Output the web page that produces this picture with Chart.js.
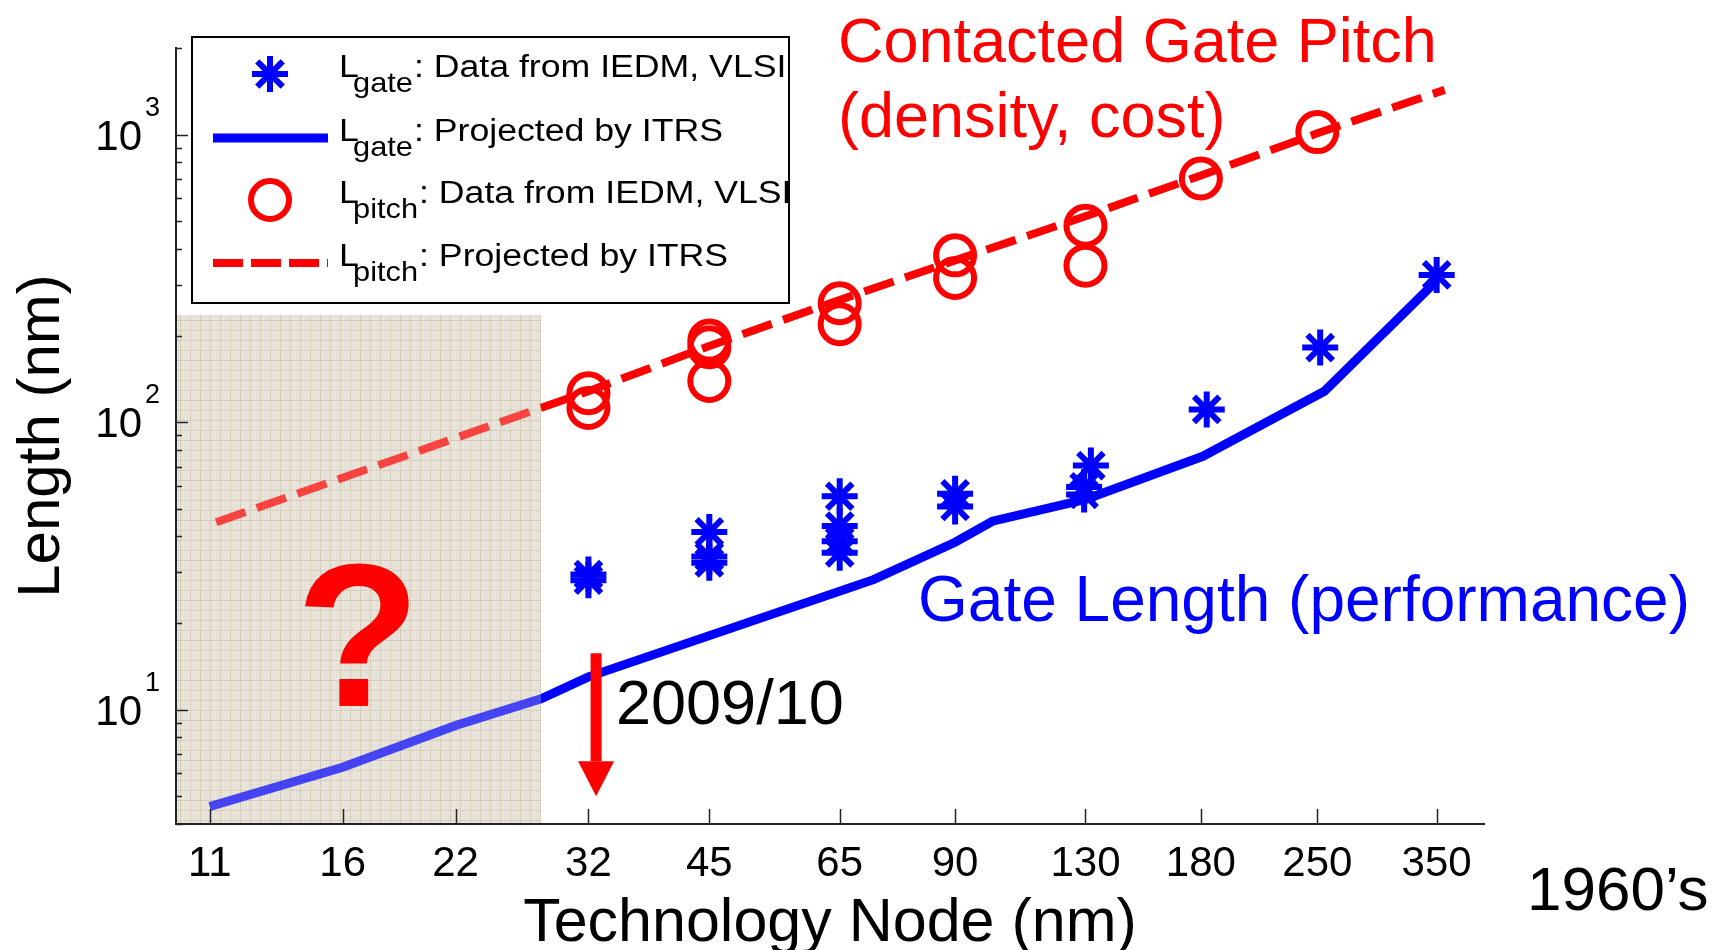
<!DOCTYPE html>
<html>
<head>
<meta charset="utf-8">
<title>Gate length and contacted gate pitch vs technology node</title>
<script src="https://cdn.jsdelivr.net/npm/chart.js@4.4.1/dist/chart.umd.min.js"></script>
<style>
  html, body { margin: 0; padding: 0; background: #fff; }
  #wrap { width: 1713px; height: 950px; }
</style>
</head>
<body>
<div id="wrap"><canvas id="chartNodos" width="1713" height="950"></canvas></div>
<script>
const FONT = '"Liberation Sans", Arial, sans-serif';

// technology nodes (nm) on the x axis, decades on the y axis
const nodeTicks = [11, 16, 22, 32, 45, 65, 90, 130, 180, 250, 350];
const yTickValues = [10, 100, 1000];
const yTickExp = ['1', '2', '3'];

// L_gate: data from IEDM, VLSI
const gateDataX = [32, 32, 45, 45, 45, 65, 65, 65, 65, 90, 90, 132, 129.5, 129.5, 183, 252, 350];
const gateDataY = [29.5, 28.2, 41.5, 34.1, 32.4, 55.2, 43.5, 38.5, 35.1, 56.3, 50.9, 70.6, 59.5, 56, 110.7, 181.6, 325];

// L_gate: projected by ITRS
const gateItrsX = [11, 16, 22, 28, 32, 71.5, 90, 100, 130, 181, 255, 350];
const gateItrsY = [4.6, 6.3, 8.8, 10.9, 13.0, 28.3, 38.2, 45.2, 53.8, 76, 128, 310];

// L_pitch: data from IEDM, VLSI
const pitchDataX = [32, 32, 45, 45, 45, 65, 65, 90, 90, 130, 130, 180, 250];
const pitchDataY = [126, 112, 192, 182, 139, 259, 219, 380, 317, 482, 350, 703, 1020];

// L_pitch: projected by ITRS
const pitchItrsX = [11.2, 16, 22, 32, 45, 65, 90, 130, 180, 250, 358];
const pitchItrsY = [44.8, 64, 88, 128, 184, 266, 365, 520, 720, 1010, 1430];

// shaded "future" zone and the 2009/10 arrow, in data units
const shadeX = [10, 28];
const shadeY = [4, 236];
const arrowX = 32.7;
const arrowY = [15.7, 5.0];

const BLUE = '#0000ff';
const RED = '#ff0000';

const toPts = (xs, ys) => xs.map((x, i) => ({ x, y: ys[i] }));

function makeShadePattern(ctx) {
  const c = document.createElement('canvas');
  c.width = 10;
  c.height = 10;
  const p = c.getContext('2d');
  p.fillStyle = '#e4e0d6';
  p.fillRect(0, 0, 10, 10);
  p.fillStyle = '#efece6';
  for (let i = 1; i < 10; i += 2) {
    for (let j = 1; j < 10; j += 2) p.fillRect(i, j, 1, 1);
  }
  p.fillStyle = '#d3cbbb';
  p.fillRect(0, 0, 10, 1);
  p.fillRect(0, 0, 1, 10);
  return ctx.createPattern(c, 'repeat');
}

function shadeRect(chart) {
  const { x, y } = chart.scales;
  const x0 = x.getPixelForValue(shadeX[0]) + 1;
  const x1 = x.getPixelForValue(shadeX[1]);
  const y0 = y.getPixelForValue(shadeY[1]);
  const y1 = y.getPixelForValue(shadeY[0]) - 1;
  return [x0, y0, x1 - x0, y1 - y0];
}

// text helper: stretch horizontally like the MATLAB legend
function drawText(ctx, text, px, py, sx) {
  ctx.save();
  ctx.translate(px, py);
  ctx.scale(sx, 1);
  ctx.fillText(text, 0, 0);
  ctx.restore();
  return ctx.measureText(text).width * sx;
}

function drawStar(ctx, cx, cy, r) {
  const d = r * Math.SQRT1_2;
  ctx.beginPath();
  ctx.moveTo(cx - r, cy); ctx.lineTo(cx + r, cy);
  ctx.moveTo(cx, cy - r); ctx.lineTo(cx, cy + r);
  ctx.moveTo(cx - d, cy - d); ctx.lineTo(cx + d, cy + d);
  ctx.moveTo(cx - d, cy + d); ctx.lineTo(cx + d, cy - d);
  ctx.stroke();
}

const legendRows = [
  { sub: 'gate', text: 'Data from IEDM, VLSI', kind: 'star' },
  { sub: 'gate', text: 'Projected by ITRS', kind: 'line' },
  { sub: 'pitch', text: 'Data from IEDM, VLSI', kind: 'circle' },
  { sub: 'pitch', text: 'Projected by ITRS', kind: 'dash' },
];

function drawLegend(ctx) {
  const bx = 192, by = 37, bw = 597, bh = 266;
  ctx.save();
  ctx.fillStyle = '#fff';
  ctx.fillRect(bx, by, bw, bh);
  ctx.lineWidth = 2;
  ctx.strokeStyle = '#000';
  ctx.strokeRect(bx, by, bw, bh);
  ctx.beginPath();
  ctx.rect(bx + 1, by + 1, bw - 2, bh - 2);
  ctx.clip();

  const symY = [74, 138, 200, 263];
  legendRows.forEach((row, i) => {
    const sy = symY[i];
    ctx.setLineDash([]);
    ctx.lineCap = 'butt';
    if (row.kind === 'star') {
      ctx.strokeStyle = BLUE; ctx.lineWidth = 6;
      drawStar(ctx, 270, sy, 18);
    } else if (row.kind === 'line') {
      ctx.strokeStyle = BLUE; ctx.lineWidth = 9;
      ctx.beginPath(); ctx.moveTo(213, sy); ctx.lineTo(328, sy); ctx.stroke();
    } else if (row.kind === 'circle') {
      ctx.strokeStyle = RED; ctx.lineWidth = 6;
      ctx.beginPath(); ctx.arc(270, sy, 19, 0, Math.PI * 2); ctx.stroke();
    } else {
      ctx.strokeStyle = RED; ctx.lineWidth = 8;
      ctx.setLineDash([30, 8]);
      ctx.beginPath(); ctx.moveTo(213, sy); ctx.lineTo(328, sy); ctx.stroke();
      ctx.setLineDash([]);
    }
    const base = sy + 3;
    ctx.fillStyle = '#000';
    ctx.textAlign = 'left';
    ctx.textBaseline = 'alphabetic';
    ctx.font = '31px ' + FONT;
    drawText(ctx, 'L', 339, base, 1.15);
    ctx.font = '28px ' + FONT;
    const wSub = drawText(ctx, row.sub, 353, base + 15, 1.1);
    ctx.font = '31px ' + FONT;
    drawText(ctx, ': ' + row.text, 354 + wSub, base, 1.15);
  });
  ctx.restore();
}

const decorPlugin = {
  id: 'decor',
  beforeDatasetsDraw(chart) {
    const { ctx } = chart;
    if (!chart.$shade) chart.$shade = makeShadePattern(ctx);
    ctx.save();
    ctx.fillStyle = chart.$shade;
    ctx.fillRect(...shadeRect(chart));
    ctx.restore();
  },
  afterDatasetsDraw(chart) {
    const { ctx, chartArea } = chart;
    const { x, y } = chart.scales;

    // translucent veil over the lines in the shaded zone
    ctx.save();
    ctx.globalAlpha = 0.3;
    ctx.fillStyle = chart.$shade;
    ctx.fillRect(...shadeRect(chart));
    ctx.restore();

    // inward tick marks (MATLAB style)
    ctx.save();
    ctx.strokeStyle = '#222';
    ctx.lineWidth = 1.5;
    ctx.beginPath();
    nodeTicks.forEach((v) => {
      const px = Math.round(x.getPixelForValue(v)) + 0.5;
      ctx.moveTo(px, chartArea.bottom);
      ctx.lineTo(px, chartArea.bottom - 15);
    });
    for (let k = 0; k <= 3; k++) {
      for (let m = 1; m <= 9; m++) {
        const v = m * Math.pow(10, k);
        if (v < y.min || v > y.max) continue;
        const py = Math.round(y.getPixelForValue(v)) + 0.5;
        ctx.moveTo(chartArea.left, py);
        ctx.lineTo(chartArea.left + (m === 1 ? 12 : 6), py);
      }
    }
    ctx.stroke();
    ctx.restore();

    // y tick labels with superscript exponent
    ctx.save();
    ctx.fillStyle = '#000';
    ctx.textBaseline = 'alphabetic';
    yTickValues.forEach((v, i) => {
      const py = y.getPixelForValue(v);
      ctx.font = '42px ' + FONT;
      ctx.textAlign = 'right';
      ctx.fillText('10', 142, py + 15);
      ctx.font = '27px ' + FONT;
      ctx.textAlign = 'left';
      ctx.fillText(yTickExp[i], 145, py - 19);
    });
    ctx.restore();

    // 2009/10 arrow
    ctx.save();
    ctx.fillStyle = RED;
    const ax = x.getPixelForValue(arrowX);
    const aTop = y.getPixelForValue(arrowY[0]);
    const aTip = y.getPixelForValue(arrowY[1]);
    ctx.fillRect(ax - 5.5, aTop, 11, aTip - 35 - aTop);
    ctx.beginPath();
    ctx.moveTo(ax - 18, aTip - 35);
    ctx.lineTo(ax + 18, aTip - 35);
    ctx.lineTo(ax, aTip);
    ctx.closePath();
    ctx.fill();
    ctx.restore();

    // annotations
    ctx.save();
    ctx.textAlign = 'left';
    ctx.textBaseline = 'alphabetic';
    ctx.fillStyle = RED;
    ctx.font = '63px ' + FONT;
    ctx.fillText('Contacted Gate Pitch', 838, 62);
    ctx.fillText('(density, cost)', 838, 137);
    ctx.fillStyle = BLUE;
    ctx.font = '64px ' + FONT;
    ctx.fillText('Gate Length (performance)', 918, 621);
    ctx.fillStyle = '#000';
    ctx.font = '63px ' + FONT;
    ctx.fillText('2009/10', 616, 724);
    ctx.font = '62px ' + FONT;
    ctx.fillText('1960\u2019s', 1527, 910);
    ctx.fillStyle = RED;
    ctx.font = 'bold 204px ' + FONT;
    ctx.textAlign = 'center';
    ctx.fillText('?', 358, 706);
    ctx.restore();

    drawLegend(ctx);
  },
};

Chart.defaults.font.family = FONT;
Chart.defaults.color = '#000';

const ctx = document.getElementById('chartNodos').getContext('2d');
const chartNodos = new Chart(ctx, {
  type: 'scatter',
  data: {
    datasets: [
      {
        label: 'Lgate: Data from IEDM, VLSI',
        data: toPts(gateDataX, gateDataY),
        showLine: false,
        pointStyle: 'star',
        pointRadius: 18,
        borderWidth: 6,
        pointBorderWidth: 6,
        borderColor: BLUE,
        backgroundColor: BLUE,
        order: 0,
      },
      {
        label: 'Lpitch: Data from IEDM, VLSI',
        data: toPts(pitchDataX, pitchDataY),
        showLine: false,
        pointStyle: 'circle',
        pointRadius: 19,
        borderWidth: 6,
        pointBorderWidth: 6,
        borderColor: RED,
        backgroundColor: 'rgba(0,0,0,0)',
        order: 1,
      },
      {
        label: 'Lgate: Projected by ITRS',
        type: 'line',
        data: toPts(gateItrsX, gateItrsY),
        borderColor: BLUE,
        borderWidth: 9,
        pointRadius: 0,
        fill: false,
        tension: 0,
        order: 2,
      },
      {
        label: 'Lpitch: Projected by ITRS',
        type: 'line',
        data: toPts(pitchItrsX, pitchItrsY),
        borderColor: RED,
        borderWidth: 8,
        borderDash: [31, 12],
        pointRadius: 0,
        fill: false,
        tension: 0,
        order: 3,
      },
    ],
  },
  options: {
    responsive: false,
    animation: false,
    events: [],
    layout: { padding: { top: 48, right: 229, left: 0, bottom: 0 } },
    plugins: {
      legend: { display: false },
      tooltip: { enabled: false },
    },
    scales: {
      x: {
        type: 'logarithmic',
        position: 'bottom',
        min: 10,
        max: 400,
        grid: { display: false },
        border: { display: true, color: '#222', width: 2 },
        afterBuildTicks: (s) => { s.ticks = nodeTicks.map((v) => ({ value: v })); },
        afterFit: (s) => { s.height = 126; },
        ticks: {
          autoSkip: false,
          maxRotation: 0,
          padding: 7,
          color: '#000',
          font: { size: 42 },
          callback: (v) => String(v),
        },
        title: {
          display: true,
          text: 'Technology Node (nm)',
          color: '#000',
          font: { size: 61, lineHeight: 0.85 },
          padding: 0,
        },
      },
      y: {
        type: 'logarithmic',
        position: 'left',
        min: 4,
        max: 2000,
        grid: { display: false },
        border: { display: true, color: '#222', width: 2 },
        afterBuildTicks: (s) => { s.ticks = yTickValues.map((v) => ({ value: v })); },
        afterFit: (s) => { s.width = 176; },
        ticks: { display: false },
        title: {
          display: true,
          text: 'Length (nm)',
          color: '#000',
          font: { size: 60, lineHeight: 1 },
          padding: { top: 12, bottom: 0 },
        },
      },
    },
  },
  plugins: [decorPlugin],
});
</script>
</body>
</html>
